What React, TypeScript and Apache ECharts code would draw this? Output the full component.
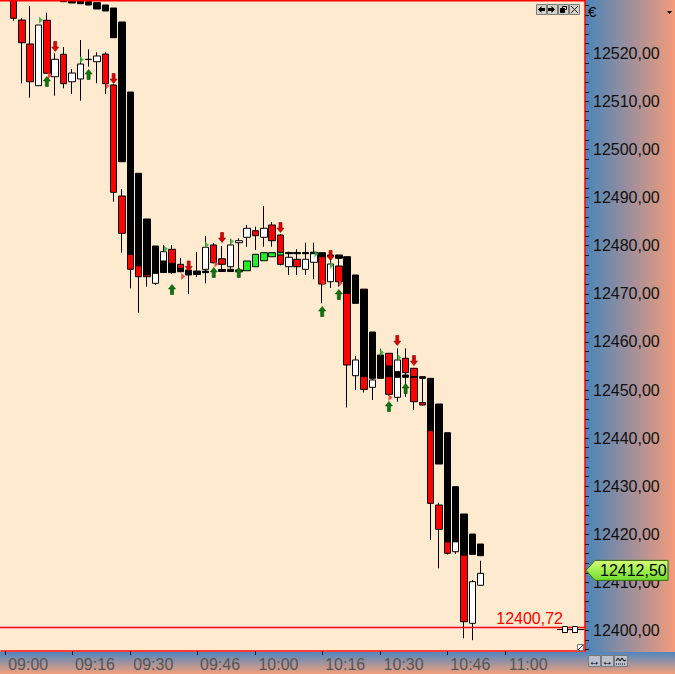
import React, { useEffect, useRef } from "react";
import * as echarts from "echarts";

// ---------- data ----------
const categories: string[] = Array.from({ length: 70 }, (_, i) => {
  const m = 9 * 60 + i * 2;
  const h = Math.floor(m / 60);
  const mm = m % 60;
  return `${String(h).padStart(2, "0")}:${String(mm).padStart(2, "0")}`;
});
const labeledTimes = ["09:00", "09:16", "09:30", "09:46", "10:00", "10:16", "10:30", "10:46", "11:00"];

// main candles [open, close, low, high], starting at slot 1 (09:02)
const firstCandleSlot = 1;
const candles: number[][] = [
  [12531.5, 12527.28, 12526.78, 12532.0],
  [12526.92, 12522.2, 12513.76, 12527.28],
  [12521.93, 12514.09, 12510.77, 12529.83],
  [12513.26, 12525.88, 12513.26, 12525.88],
  [12526.86, 12515.84, 12515.7, 12528.44],
  [12515.13, 12518.75, 12511.18, 12520.0],
  [12519.79, 12513.68, 12512.72, 12521.31],
  [12514.09, 12515.9, 12511.54, 12516.73],
  [12514.66, 12517.77, 12510.14, 12522.76],
  [12518.75, 12518.7, 12517.21, 12520.83],
  [12518.25, 12519.44, 12513.76, 12520.21],
  [12519.85, 12513.68, 12511.54, 12520.21],
  [12513.41, 12491.1, 12489.15, 12513.6],
  [12490.33, 12482.58, 12478.54, 12491.79],
  [12478.21, 12475.09, 12471.14, 12478.3],
  [12475.84, 12473.55, 12466.07, 12476.0],
  [12473.97, 12473.55, 12471.47, 12474.1],
  [12472.18, 12475.5, 12471.83, 12475.5],
  [12475.5, 12478.75, 12474.4, 12480.15],
  [12479.25, 12475.0, 12474.12, 12480.15],
  [12476.13, 12474.8, 12474.5, 12477.44],
  [12474.8, 12474.1, 12469.96, 12474.9],
  [12474.6, 12474.1, 12473.49, 12478.69],
  [12475.09, 12479.67, 12472.18, 12482.0],
  [12480.15, 12476.47, 12476.3, 12480.56],
  [12477.28, 12476.13, 12474.95, 12479.94],
  [12475.63, 12480.15, 12475.2, 12481.39],
  [12480.62, 12481.04, 12474.95, 12481.54],
  [12481.75, 12483.62, 12479.79, 12484.3],
  [12483.12, 12482.08, 12479.1, 12483.95],
  [12481.75, 12483.62, 12479.79, 12488.25],
  [12484.3, 12481.04, 12479.79, 12484.93],
  [12482.22, 12476.13, 12475.9, 12482.4],
  [12475.63, 12477.59, 12473.91, 12478.75],
  [12477.17, 12475.63, 12473.91, 12479.25],
  [12475.09, 12477.17, 12473.91, 12480.62],
  [12476.55, 12478.63, 12473.01, 12480.62],
  [12478.4, 12472.04, 12468.02, 12478.6],
  [12472.51, 12476.19, 12471.2, 12477.86],
  [12475.78, 12472.51, 12471.5, 12477.5],
  [12471.0, 12455.2, 12446.36, 12471.2],
  [12452.97, 12456.24, 12449.99, 12457.07],
  [12453.5, 12450.14, 12449.5, 12454.0],
  [12450.56, 12452.08, 12447.92, 12452.4],
  [12455.0, 12453.5, 12452.6, 12458.6],
  [12457.63, 12449.1, 12448.8, 12457.7],
  [12448.48, 12456.24, 12447.57, 12458.67],
  [12456.59, 12453.6, 12448.6, 12458.67],
  [12454.51, 12447.57, 12445.84, 12454.6],
  [12447.4, 12446.88, 12446.8, 12452.7],
  [12441.6, 12426.44, 12418.8, 12441.6],
  [12426.09, 12421.04, 12412.93, 12426.57],
  [12418.46, 12416.05, 12415.8, 12418.5],
  [12416.38, 12418.46, 12415.9, 12418.5],
  [12415.7, 12401.83, 12398.38, 12415.8],
  [12401.5, 12410.15, 12398.0, 12410.5],
  [12409.4, 12411.89, 12409.3, 12414.5],
];

// overlay boxes [open, close], starting at slot 7 (09:14)
const firstBoxSlot = 7;
const boxes: (number[] | null)[] = [
  [12531.5, 12530.73],
  [12531.4, 12530.46],
  [12531.2, 12530.31],
  [12530.73, 12530.04],
  [12530.52, 12529.21],
  [12530.04, 12528.79],
  [12529.42, 12523.24],
  [12526.51, 12497.46],
  [12511.95, 12478.21],
  [12495.05, 12475.84],
  [12485.55, 12473.97],
  [12479.94, 12474.26],
  [12476.82, 12474.43],
  [12476.34, 12474.39],
  [12475.3, 12474.59],
  [12474.95, 12473.91],
  [12474.74, 12474.01],
  [12474.74, 12474.39],
  null,
  [12475.05, 12474.63],
  [12475.09, 12474.63],
  [12474.95, 12474.59],
  [12474.8, 12476.82],
  [12475.63, 12478.21],
  [12476.88, 12478.54],
  [12477.71, 12478.54],
  [12478.07, 12478.63],
  [12478.59, 12478.34],
  [12478.59, 12478.34],
  [12478.59, 12478.34],
  [12478.59, 12478.34],
  [12478.54, 12477.71],
  [12478.07, 12477.71],
  [12478.07, 12477.38],
  [12477.71, 12470.1],
  [12473.91, 12468.02],
  [12470.97, 12452.77],
  [12462.06, 12452.43],
  [12457.28, 12452.43],
  [12454.99, 12452.77],
  [12453.81, 12452.64],
  [12453.12, 12452.64],
  [12452.8, 12452.6],
  [12452.77, 12452.43],
  [12452.43, 12441.54],
  [12447.09, 12434.61],
  [12441.12, 12418.46],
  [12429.9, 12418.46],
  [12424.22, 12415.7],
  [12420.06, 12415.84],
  [12417.98, 12415.55],
];

// signals [slot, price]
const downArrows: number[][] = [
  [6, 12521.41], [13, 12514.76], [22, 12475.78], [26, 12481.7],
  [33, 12483.78], [39, 12477.96], [47, 12460.29], [49, 12456.13],
];
const upArrows: number[][] = [
  [5, 12514.14], [10, 12515.59], [20, 12470.9], [25, 12474.43], [28, 12474.43],
  [38, 12466.32], [40, 12469.85], [46, 12446.57], [48, 12450.31],
];
const greenMarks: number[][] = [
  [4.29, 12526.92], [9.21, 12518.71], [19.28, 12479.31], [24.19, 12480.15], [27.19, 12480.87],
  [37.32, 12478.27], [39.17, 12475.88], [45.17, 12457.8], [47.26, 12456.76],
];
const redMarks: number[][] = [
  [5.37, 12515.38], [12.27, 12513.2], [21.35, 12473.6], [25.33, 12476.2],
  [38.21, 12472.35], [40.25, 12472.25], [46.19, 12448.44],
];

const yLabelValues = [12400, 12410, 12420, 12430, 12440, 12450, 12460, 12470, 12480, 12490, 12500, 12510, 12520];
const yTickStep = 2;
const yMin = 12395.74;
const yMax = 12531.08;
const lastPrice = 12412.5;
const lowLevel = 12400.72;

// ---------- helpers ----------
const fmt = (v: number) => v.toFixed(2).replace(".", ",");
const FONT = "Liberation Sans";

const mainData = categories.map((_, i) => {
  const c = candles[i - firstCandleSlot];
  return c ? c : "-";
});
const boxData = categories.map((_, i) => {
  const b = boxes[i - firstBoxSlot];
  if (!b) return "-";
  return [b[0], b[1], Math.min(b[0], b[1]), Math.max(b[0], b[1])];
});
const yTickValues: number[] = [];
for (let v = yLabelValues[0] - 4; v <= yMax; v += yTickStep) yTickValues.push(v);

const showLabel = (_i: number, v: string) => labeledTimes.indexOf(v) >= 0;

const DOWN_ARROW = "path://M2,0 L5,0 L5,5 L7,5 L3.5,9 L0,5 L2,5 Z";
const UP_ARROW = "path://M3.5,0 L7,4 L5,4 L5,9 L2,9 L2,4 L0,4 Z";
const CHEVRON = "path://M0,0 L4,3.5 L0,7 Z";

function textEl(text: string, x: number, y: number, fill: string, size: number, align: string, valign: string, z = 60) {
  return {
    type: "text",
    z,
    silent: true,
    style: {
      text, x, y, fill,
      font: `${size}px "${FONT}"`,
      align, textAlign: align,
      verticalAlign: valign, textVerticalAlign: valign,
    },
  };
}

function buildGraphic(yTag: number, yLow: number) {
  const btn = (x: number, y: number, w: number, h: number, fill: string) => ({
    type: "rect", z: 60, silent: true,
    shape: { x: x + 0.5, y: y + 0.5, width: w, height: h },
    style: { fill, stroke: "#7a7a7a", lineWidth: 1 },
  });
  const els: any[] = [
    {
      type: "rect", z: -10, silent: true,
      shape: { x: 585, y: 0, width: 90, height: 652 },
      style: {
        fill: new echarts.graphic.LinearGradient(0, 0, 1, 0, [
          { offset: 0, color: "#4a84b9" },
          { offset: 1, color: "#f39b7b" },
        ]),
      },
    },
    {
      type: "rect", z: -10, silent: true,
      shape: { x: 0, y: 652, width: 675, height: 22 },
      style: {
        fill: new echarts.graphic.LinearGradient(0, 0, 0, 1, [
          { offset: 0, color: "#4f86bf" },
          { offset: 1, color: "#f2a07c" },
        ]),
      },
    },
    { type: "rect", z: 50, silent: true, shape: { x: 0, y: 0, width: 585, height: 1.5 }, style: { fill: "#ff0000" } },
    // low level line
    { type: "rect", z: 70, silent: true, shape: { x: 0, y: Math.round(yLow) - 0.25, width: 585, height: 1.5 }, style: { fill: "#ff0000" } },
    // top-right buttons
    btn(536, 4, 10, 10, "#d4d0c8"),
    btn(547, 4, 10, 10, "#d4d0c8"),
    btn(558, 4, 10, 10, "#d4d0c8"),
    btn(569, 4, 10, 10, "#d4d0c8"),
    { type: "polygon", z: 61, silent: true, shape: { points: [[538, 9.5], [541.5, 6], [541.5, 8], [545, 8], [545, 11], [541.5, 11], [541.5, 13]] }, style: { fill: "#000" } },
    { type: "polygon", z: 61, silent: true, shape: { points: [[555, 9.5], [551.5, 6], [551.5, 8], [548, 8], [548, 11], [551.5, 11], [551.5, 13]] }, style: { fill: "#000" } },
    { type: "rect", z: 61, silent: true, shape: { x: 562.5, y: 6.5, width: 4, height: 3 }, style: { fill: "none", stroke: "#000", lineWidth: 1 } },
    { type: "rect", z: 61, silent: true, shape: { x: 560.5, y: 8.5, width: 4, height: 4 }, style: { fill: "#000", stroke: "#000", lineWidth: 1 } },
    { type: "line", z: 61, silent: true, shape: { x1: 571, y1: 6, x2: 578, y2: 13 }, style: { stroke: "#222", lineWidth: 1 } },
    { type: "line", z: 61, silent: true, shape: { x1: 578, y1: 6, x2: 571, y2: 13 }, style: { stroke: "#222", lineWidth: 1 } },
    // euro + dropdown
    textEl("€", 588, 11, "#000", 15, "left", "middle"),
    { type: "polygon", z: 61, silent: true, shape: { points: [[667, 11], [672, 11], [669.5, 14]] }, style: { fill: "#000" } },
    // bottom-right buttons
    btn(588, 655, 12, 11, "#b9bfcd"),
    btn(601, 655, 12, 11, "#b9bfcd"),
    btn(614, 655, 13, 11, "#b9bfcd"),
    textEl("↔", 594.5, 661, "#000", 12, "center", "middle", 61),
    textEl("↔", 607.5, 661, "#000", 12, "center", "middle", 61),
    { type: "polyline", z: 61, silent: true, shape: { points: [[616, 661], [618, 658], [620, 661], [622, 658], [624, 661], [626, 660]] }, style: { stroke: "#000", fill: "none", lineWidth: 1 } },
    { type: "line", z: 61, silent: true, shape: { x1: 616, y1: 664, x2: 626, y2: 664 }, style: { stroke: "#000", lineWidth: 1, lineDash: [1, 1] } },
    // resize icon
    { type: "rect", z: 61, silent: true, shape: { x: 577.5, y: 644.5, width: 6, height: 6 }, style: { fill: "#fff", stroke: "#777", lineWidth: 1 } },
    { type: "line", z: 61, silent: true, shape: { x1: 578, y1: 650, x2: 583, y2: 645 }, style: { stroke: "#333", lineWidth: 1 } },
    // last price tag
    {
      type: "polygon", z: 62, silent: true,
      shape: { points: [[586, yTag], [595, yTag - 10], [668, yTag - 10], [668, yTag + 10], [595, yTag + 10]] },
      style: {
        fill: new echarts.graphic.LinearGradient(0, 0, 0, 1, [
          { offset: 0, color: "#d6ff7a" },
          { offset: 1, color: "#6edc2a" },
        ]),
        stroke: "#3a6a10", lineWidth: 1,
      },
    },
    textEl(fmt(lastPrice), 600, yTag + 0.5, "#000", 16, "left", "middle", 63),
    // low level label + icon
    textEl(fmt(lowLevel), 563, yLow - 1, "#ff0000", 16, "right", "bottom", 55),
    { type: "line", z: 71, silent: true, shape: { x1: 557, y1: yLow + 2.5, x2: 584, y2: yLow + 2.5 }, style: { stroke: "#000", lineWidth: 1 } },
    { type: "rect", z: 72, silent: true, shape: { x: 562.5, y: yLow - 0.5, width: 5, height: 6 }, style: { fill: "#fff", stroke: "#000", lineWidth: 1 } },
    { type: "rect", z: 72, silent: true, shape: { x: 572.5, y: yLow - 0.5, width: 5, height: 6 }, style: { fill: "#fff", stroke: "#000", lineWidth: 1 } },
  ];
  return els;
}

export default function App() {
  const ref = useRef<HTMLDivElement>(null);
  useEffect(() => {
    if (!ref.current) return;
    const chart = echarts.init(ref.current, null, { renderer: "svg" });
    const option: any = {
      animation: false,
      backgroundColor: "#fdeacf",
      textStyle: { fontFamily: FONT },
      grid: { left: 1, top: 0, width: 584, height: 651, containLabel: false },
      xAxis: [
        {
          type: "category",
          data: categories,
          boundaryGap: true,
          axisLine: { show: true, onZero: false, lineStyle: { color: "#ff0000", width: 1.5 } },
          axisTick: { show: true, alignWithLabel: true, interval: showLabel, length: 4, lineStyle: { color: "#111" } },
          axisLabel: {
            interval: showLabel, align: "left", color: "#555", fontSize: 16,
            fontFamily: FONT, margin: 5, padding: [0, 0, 0, 3],
          },
          splitLine: { show: false },
        },
        { type: "value", min: -0.5, max: 69.5, show: false },
      ],
      yAxis: {
        type: "value",
        position: "right",
        min: yMin,
        max: yMax,
        axisLine: { show: true, onZero: false, lineStyle: { color: "#ff0000", width: 1.5 } },
        axisTick: { show: true, length: 4, customValues: yTickValues, lineStyle: { color: "#111" } },
        axisLabel: {
          customValues: yLabelValues, formatter: (v: number) => fmt(v),
          color: "#111", fontSize: 16, fontFamily: FONT, margin: 8,
        },
        splitLine: { show: false },
      },
      series: [
        {
          type: "candlestick",
          name: "price",
          data: mainData,
          barWidth: 7,
          clip: true,
          itemStyle: { color: "#ffffff", color0: "#ff0000", borderColor: "#000", borderColor0: "#000", borderWidth: 1 },
        },
        {
          type: "candlestick",
          name: "box",
          data: boxData,
          barWidth: 7,
          clip: true,
          itemStyle: { color: "#22ee22", color0: "#000000", borderColor: "#000", borderColor0: "#000", borderWidth: 1 },
        },
        {
          type: "scatter", z: 5, xAxisIndex: 0, data: downArrows,
          symbol: DOWN_ARROW, symbolSize: [7, 10],
          itemStyle: { color: "#e00000", borderColor: "#8a0000", borderWidth: 0.6, opacity: 1 },
        },
        {
          type: "scatter", z: 5, xAxisIndex: 0, data: upArrows,
          symbol: UP_ARROW, symbolSize: [7, 10],
          itemStyle: { color: "#0a7a0a", borderColor: "#034003", borderWidth: 0.6, opacity: 1 },
        },
        {
          type: "scatter", z: 4, xAxisIndex: 1, data: greenMarks,
          symbol: CHEVRON, symbolSize: [4, 7],
          itemStyle: { color: "#3aa83a", opacity: 0.85 },
        },
        {
          type: "scatter", z: 4, xAxisIndex: 1, data: redMarks,
          symbol: CHEVRON, symbolSize: [4, 7],
          itemStyle: { color: "#ee3333", opacity: 0.85 },
        },
      ],
    };
    chart.setOption(option);
    const yTag = chart.convertToPixel({ yAxisIndex: 0 }, lastPrice) as number;
    const yLow = chart.convertToPixel({ yAxisIndex: 0 }, lowLevel) as number;
    chart.setOption({ graphic: buildGraphic(yTag, yLow) });
    return () => chart.dispose();
  }, []);
  return (
    <div
      ref={ref}
      style={{ position: "fixed", left: 0, top: 0, width: 675, height: 674 }}
    />
  );
}
